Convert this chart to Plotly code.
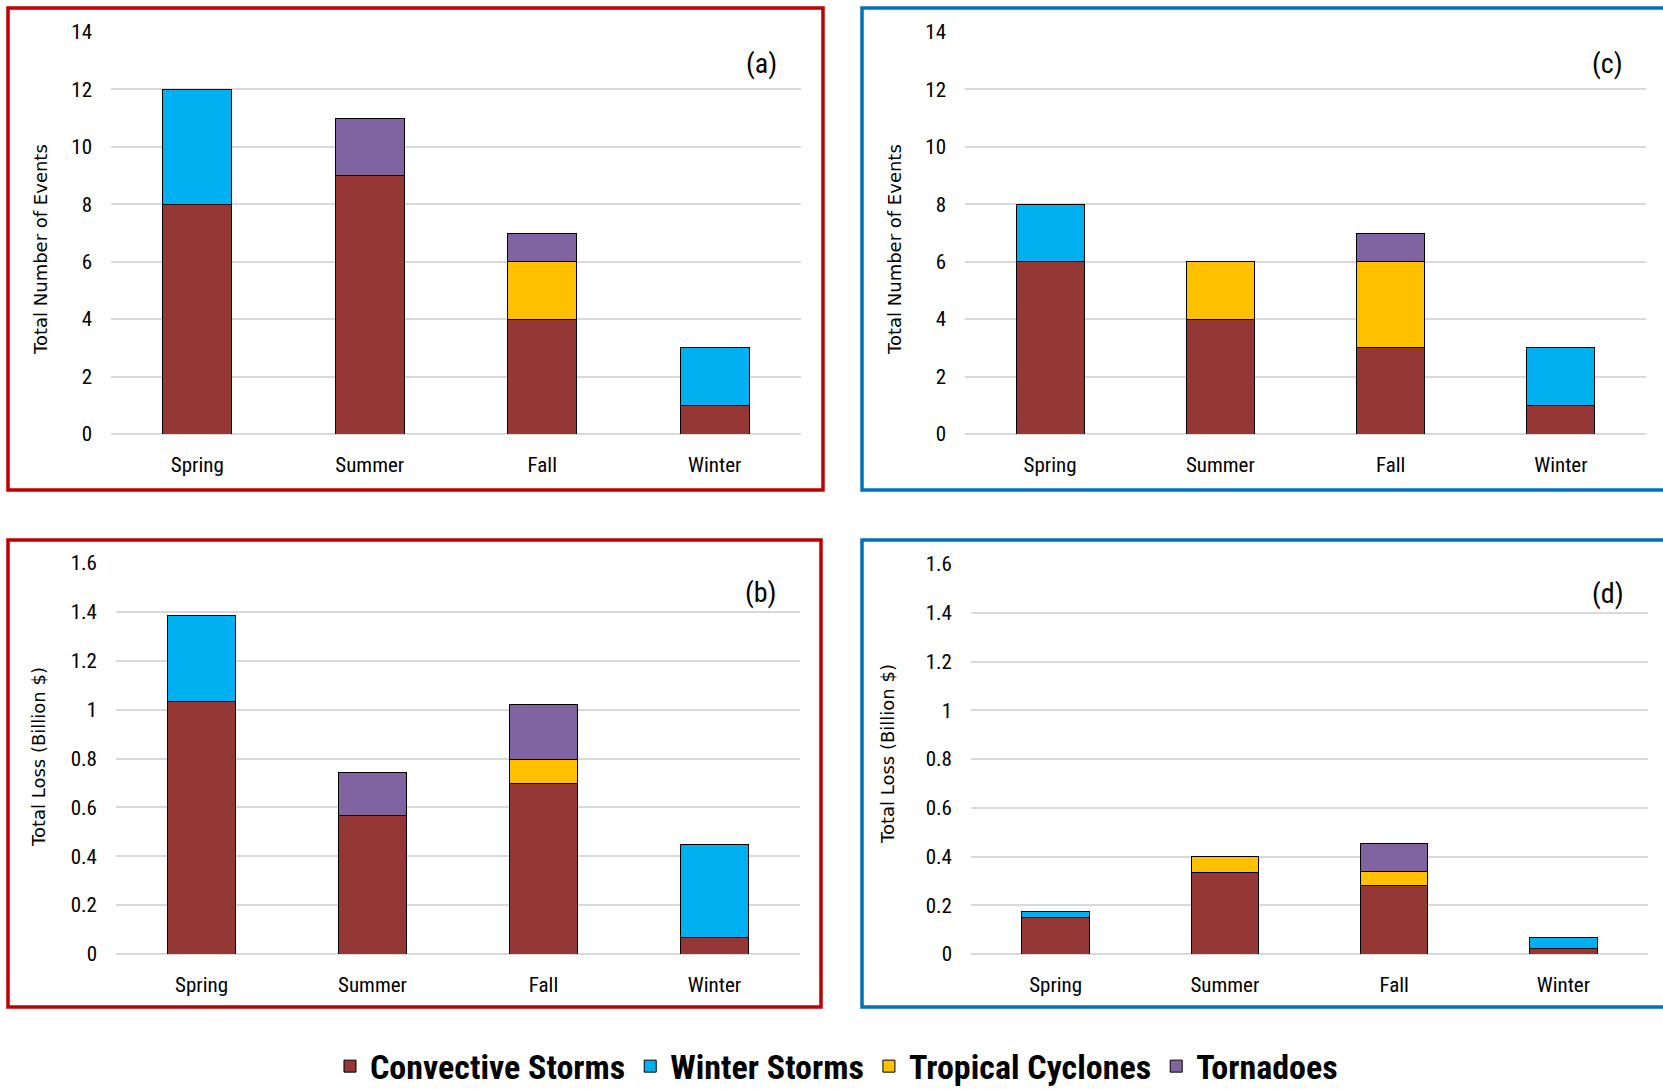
import plotly.graph_objects as go

W, H = 1663, 1089

seasons = ["Spring", "Summer", "Fall", "Winter"]
series_names = ["Convective Storms", "Winter Storms", "Tropical Cyclones", "Tornadoes"]
series_colors = ["#953735", "#00B0F0", "#FFC000", "#8064A2"]

# (a) Total number of events - left group
events_a_convective = [8, 9, 4, 1]
events_a_winter = [4, 0, 0, 2]
events_a_tropical = [0, 0, 2, 0]
events_a_tornado = [0, 2, 1, 0]

# (c) Total number of events - right group
events_c_convective = [6, 4, 3, 1]
events_c_winter = [2, 0, 0, 2]
events_c_tropical = [0, 2, 3, 0]
events_c_tornado = [0, 0, 1, 0]

# (b) Total loss (billion $) - left group
loss_b_convective = [1.032, 0.566, 0.696, 0.066]
loss_b_winter = [0.352, 0, 0, 0.383]
loss_b_tropical = [0, 0, 0.098, 0]
loss_b_tornado = [0, 0.175, 0.226, 0]

# (d) Total loss (billion $) - right group
loss_d_convective = [0.151, 0.334, 0.282, 0.022]
loss_d_winter = [0.024, 0, 0, 0.044]
loss_d_tropical = [0, 0.066, 0.055, 0]
loss_d_tornado = [0, 0, 0.115, 0]

events_ticks = [0, 2, 4, 6, 8, 10, 12, 14]
loss_ticks = [0, 0.2, 0.4, 0.6, 0.8, 1, 1.2, 1.4, 1.6]
loss_ticktext = ["0", "0.2", "0.4", "0.6", "0.8", "1", "1.2", "1.4", "1.6"]

panels = [
    ("a", [events_a_convective, events_a_winter, events_a_tropical, events_a_tornado]),
    ("c", [events_c_convective, events_c_winter, events_c_tropical, events_c_tornado]),
    ("b", [loss_b_convective, loss_b_winter, loss_b_tropical, loss_b_tornado]),
    ("d", [loss_d_convective, loss_d_winter, loss_d_tropical, loss_d_tornado]),
]

# pixel boxes of plot areas (x0, x1, ytop, ybottom)
boxes = [
    (111, 801, 32, 434),
    (965, 1646, 32, 434),
    (116, 800, 563, 954),
    (971, 1648, 564, 954),
]

TICKFONT = "Liberation Sans Narrow, Arial Narrow, Roboto Condensed, Liberation Sans, sans-serif"

fig = go.Figure()

for i, (lab, series) in enumerate(panels):
    ax = "" if i == 0 else str(i + 1)
    for name, color, vals in zip(series_names, series_colors, series):
        fig.add_trace(go.Bar(
            x=seasons, y=vals, name=name,
            marker=dict(color=color, line=dict(color="#000000", width=1)),
            xaxis="x" + ax, yaxis="y" + ax,
            showlegend=(i == 0), legendgroup=name,
            hoverinfo="skip",
        ))

layout_axes = {}
for i, (x0, x1, yt, yb) in enumerate(boxes):
    ax = "" if i == 0 else str(i + 1)
    is_events = i < 2
    layout_axes["xaxis" + ax] = dict(
        domain=[x0 / W, x1 / W], anchor="y" + ax,
        showgrid=False, showline=False, zeroline=False, automargin=False,
        ticks="", tickfont=dict(family=TICKFONT, size=21, color="#000000"),
        ticklabelstandoff=16, fixedrange=True,
    )
    layout_axes["yaxis" + ax] = dict(
        domain=[1 - yb / H, 1 - yt / H], anchor="x" + ax,
        range=[0, 14] if is_events else [0, 1.6],
        tickvals=events_ticks if is_events else loss_ticks,
        ticktext=[str(v) for v in events_ticks] if is_events else loss_ticktext,
        showgrid=True, gridcolor="#D9D9D9", gridwidth=1.5,
        zeroline=True, zerolinecolor="#D9D9D9", zerolinewidth=1.5,
        showline=False, ticks="", automargin=False,
        tickfont=dict(family=TICKFONT, size=21, color="#000000"),
        ticklabelstandoff=18, fixedrange=True,
    )

shapes = []
border_boxes = [
    (8, 823, 8, 490, "#C00000"),
    (862, 1675, 8, 490, "#0070C0"),
    (8, 821, 540, 1007, "#C00000"),
    (862, 1675, 540, 1007, "#0070C0"),
]
for (x0, x1, y0, y1, c) in border_boxes:
    shapes.append(dict(type="rect", xref="paper", yref="paper",
                       x0=x0 / W, x1=x1 / W, y0=1 - y1 / H, y1=1 - y0 / H,
                       line=dict(color=c, width=3.5), fillcolor="rgba(0,0,0,0)"))

annotations = []
TITLEFONT = "DejaVu Sans, Verdana, sans-serif"
titles = [
    ("Total Number of Events", 40, 250),
    ("Total Number of Events", 894, 250),
    ("Total Loss (Billion $)", 38, 757),
    ("Total Loss (Billion $)", 887, 754),
]
for t, px, py in titles:
    annotations.append(dict(text=t, x=px / W, y=1 - py / H, xref="paper", yref="paper",
                            showarrow=False, textangle=-90,
                            font=dict(family=TITLEFONT, size=18, color="#000000"),
                            xanchor="center", yanchor="middle"))
labels = [("(a)", 761, 64), ("(c)", 1607, 64), ("(b)", 761, 592), ("(d)", 1608, 593)]
for t, px, py in labels:
    annotations.append(dict(text=t, x=px / W, y=1 - py / H, xref="paper", yref="paper",
                            showarrow=False,
                            font=dict(family=TICKFONT, size=28, color="#000000"),
                            xanchor="center", yanchor="middle"))

fig.update_layout(
    width=W, height=H,
    margin=dict(l=0, r=0, t=0, b=0, autoexpand=False),
    paper_bgcolor="#FFFFFF", plot_bgcolor="#FFFFFF",
    barmode="stack", bargap=0.6,
    shapes=shapes, annotations=annotations,
    showlegend=True,
    legend=dict(orientation="h", x=0.503, y=-0.006, xanchor="center", yanchor="bottom",
                font=dict(family=TICKFONT, size=34, color="#000000", weight="bold"),
                itemwidth=30, traceorder="normal", bgcolor="rgba(0,0,0,0)",
                borderwidth=0),
    hovermode=False,
    **layout_axes,
)

fig.write_html("out.html", config={"displayModeBar": False},
               post_script="document.body.style.margin='0';document.body.style.overflow='hidden';")
